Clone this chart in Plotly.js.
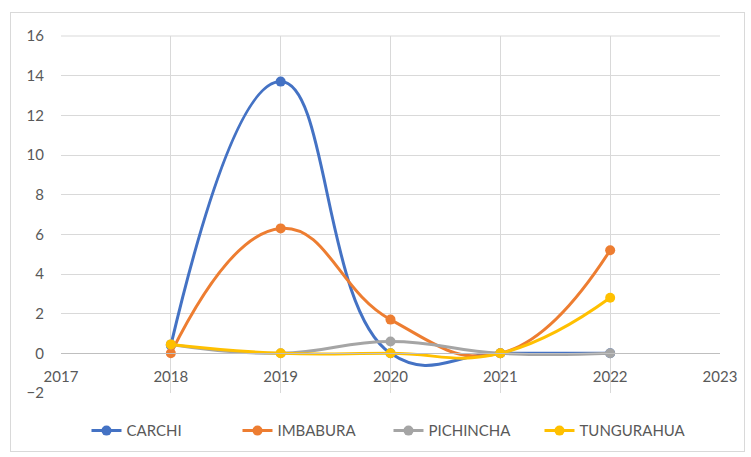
<!DOCTYPE html>
<html>
<head>
<meta charset="utf-8">
<script src="https://cdn.plot.ly/plotly-3.0.1.min.js"></script>
<style>
html,body{margin:0;padding:0;background:#fff;}
#wrap{position:absolute;left:10px;top:12px;width:733px;height:438px;border:1px solid #d9d9d9;}
#chart{width:733px;height:438px;}
</style>
</head>
<body>
<div id="wrap"><div id="chart"></div></div>
<script>
const years = [2018, 2019, 2020, 2021, 2022];
const carchi = [0.4, 13.7, 0, 0, 0];
const imbabura = [0, 6.3, 1.7, 0, 5.2];
const pichincha = [0.45, 0, 0.6, 0, 0];
const tungurahua = [0.45, 0, 0, 0, 2.8];
const seriesNames = ['CARCHI', 'IMBABURA', 'PICHINCHA', 'TUNGURAHUA'];
const seriesColors = ['#4472C4', '#ED7D31', '#A5A5A5', '#FFC000'];
const seriesValues = [carchi, imbabura, pichincha, tungurahua];

const traces = seriesValues.map((v, i) => ({
  x: years, y: v, name: seriesNames[i], type: 'scatter', mode: 'lines+markers',
  line: {color: seriesColors[i], width: 3, shape: 'spline', smoothing: 1.3},
  marker: {color: seriesColors[i], size: 10}
}));

const font = {family: 'Lato, "Liberation Sans", sans-serif', size: 15, color: '#595959'};
const layout = {
  width: 733, height: 438,
  margin: {l: 50, r: 24, t: 23, b: 58, autoexpand: false},
  paper_bgcolor: '#fff', plot_bgcolor: '#fff',
  font: font,
  showlegend: true,
  legend: {orientation: 'h', x: 0.515, xanchor: 'center', xref: 'container', y: 0.046, yanchor: 'middle', yref: 'container',
           font: font, traceorder: 'normal', entrywidth: 106, entrywidthmode: 'pixels'},
  xaxis: {range: [2017, 2023], dtick: 1, tick0: 2017, showgrid: true, gridcolor: '#d9d9d9', gridwidth: 1,
          zeroline: false, showline: true, linecolor: '#bfbfbf', linewidth: 1,
          anchor: 'free', position: 2/18, ticks: '', ticklen: 0, ticklabelstandoff: 10, fixedrange: true},
  yaxis: {range: [-2, 16], dtick: 2, showgrid: true, gridcolor: '#d9d9d9', gridwidth: 1,
          zeroline: false, showline: false, ticks: '', ticklabelstandoff: 16, fixedrange: true},
  shapes: [{type: 'line', xref: 'paper', yref: 'paper', x0: 0, x1: 1, y0: 1, y1: 1, line: {color: '#d9d9d9', width: 1}}]
};
Plotly.newPlot('chart', traces, layout, {displayModeBar: false, staticPlot: true});
</script>
</body>
</html>
